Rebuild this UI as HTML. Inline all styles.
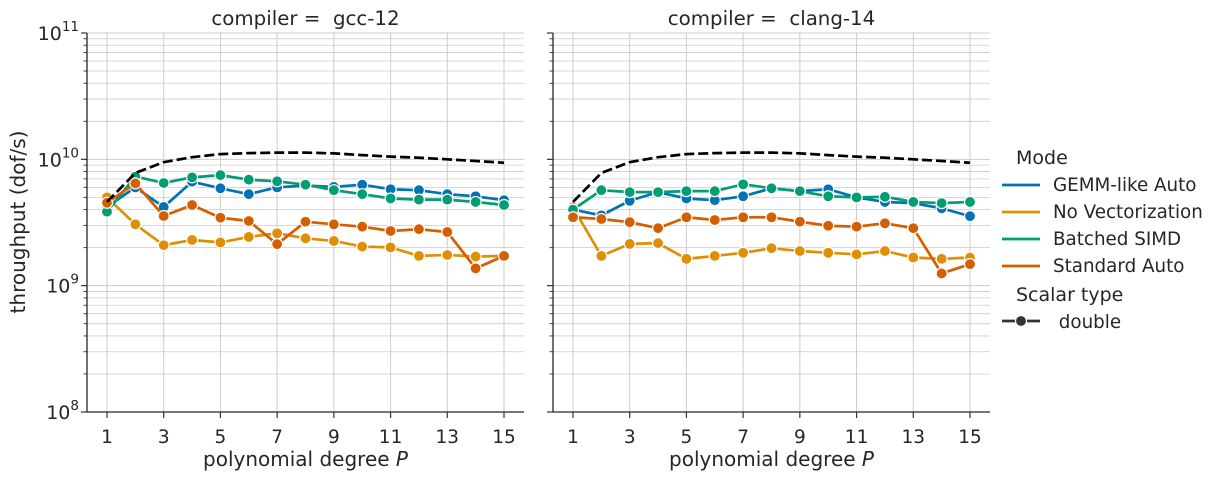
<!DOCTYPE html>
<html><head><meta charset="utf-8"><style>
html,body{margin:0;padding:0;background:#fff;width:1220px;height:480px;overflow:hidden}
svg{font-family:"DejaVu Sans","Liberation Sans",sans-serif;}
</style></head><body>
<svg id="chart" width="1220" height="480" xmlns="http://www.w3.org/2000/svg"></svg>
<script>
const degrees=[1,2,3,4,5,6,7,8,9,10,11,12,13,14,15];
const peak=[4.6e9,7.8e9,9.5e9,1.04e10,1.1e10,1.12e10,1.13e10,1.13e10,1.115e10,1.08e10,1.05e10,1.03e10,1.0e10,0.97e10,0.94e10];
const gccGemm=[4.2e9,6.0e9,4.2e9,6.65e9,5.9e9,5.3e9,6.0e9,6.2e9,6.05e9,6.3e9,5.8e9,5.7e9,5.3e9,5.1e9,4.75e9];
const gccNoVec=[5.0e9,3.06e9,2.09e9,2.3e9,2.2e9,2.43e9,2.6e9,2.37e9,2.26e9,2.04e9,2.01e9,1.72e9,1.75e9,1.7e9,1.72e9];
const gccBatched=[3.85e9,7.3e9,6.5e9,7.2e9,7.5e9,6.9e9,6.7e9,6.3e9,5.7e9,5.3e9,4.9e9,4.8e9,4.8e9,4.6e9,4.35e9];
const gccStd=[4.53e9,6.45e9,3.56e9,4.35e9,3.45e9,3.25e9,2.13e9,3.21e9,3.06e9,2.93e9,2.71e9,2.8e9,2.66e9,1.37e9,1.72e9];
const clangGemm=[4.0e9,3.6e9,4.7e9,5.5e9,4.9e9,4.75e9,5.1e9,5.9e9,5.6e9,5.8e9,5.0e9,4.6e9,4.5e9,4.1e9,3.55e9];
const clangNoVec=[4.17e9,1.72e9,2.14e9,2.17e9,1.63e9,1.72e9,1.82e9,1.98e9,1.88e9,1.82e9,1.77e9,1.88e9,1.67e9,1.63e9,1.67e9];
const clangBatched=[4.0e9,5.7e9,5.5e9,5.5e9,5.6e9,5.6e9,6.35e9,5.9e9,5.6e9,5.1e9,5.0e9,5.05e9,4.6e9,4.5e9,4.6e9];
const clangStd=[3.48e9,3.37e9,3.18e9,2.85e9,3.48e9,3.31e9,3.48e9,3.48e9,3.21e9,2.98e9,2.93e9,3.12e9,2.85e9,1.25e9,1.48e9];
const xTicks=[1,3,5,7,9,11,13,15];
const modeNames=["GEMM-like Auto","No Vectorization","Batched SIMD","Standard Auto"];
const colors=["#0173b2","#de8f05","#029e73","#d55e00"];

const NS="http://www.w3.org/2000/svg";
const svg=document.getElementById('chart');
function mk(tag,attrs,parent){const e=document.createElementNS(NS,tag);for(const k in attrs)e.setAttribute(k,attrs[k]);(parent||svg).appendChild(e);return e;}
const yTop=33,yBot=412;
function yS(v){return yBot-(Math.log10(v)-8)/3*(yBot-yTop);}

const panels=[
 {name:"gcc",title:"compiler =\u00a0\u00a0gcc-12",x0:87,x1:524,series:[gccGemm,gccNoVec,gccBatched,gccStd],labels:true},
 {name:"clang",title:"compiler =\u00a0\u00a0clang-14",x0:553,x1:990,series:[clangGemm,clangNoVec,clangBatched,clangStd],labels:false}
];
panels.forEach(p=>{
  const g=mk('g',{});
  
  
  const xS=d=>p.x0+20+(d-1)/14*(p.x1-p.x0-40);
  for(let e=8;e<11;e++){for(let m=1;m<10;m++){const y=yS(m*Math.pow(10,e));
    const gl=mk('line',{x1:p.x0,x2:p.x1,y1:y,y2:y,stroke:'#cccccc','stroke-width':m==1?1:0.8},g);
    
    mk('line',{x1:p.x0,x2:p.x0-(m==1?6:3.5),y1:y,y2:y,stroke:'#333','stroke-width':m==1?1.2:0.9},g);}}
  mk('line',{x1:p.x0,x2:p.x1,y1:yTop,y2:yTop,stroke:'#cccccc','stroke-width':1},g);
  mk('line',{x1:p.x0,x2:p.x0-6,y1:yTop,y2:yTop,stroke:'#333','stroke-width':1.2},g);
  xTicks.forEach(t=>{const x=xS(t);
    const vl=mk('line',{x1:x,x2:x,y1:yTop,y2:yBot,stroke:'#cccccc','stroke-width':1},g);
    
    mk('line',{x1:x,x2:x,y1:yBot,y2:yBot+6,stroke:'#333','stroke-width':1.2},g);
    const tl=mk('text',{x:x,y:yBot+31,'text-anchor':'middle','font-size':18.5,fill:'#262626'},g);tl.textContent=t;
    });
  if(p.labels){[8,9,10,11].forEach(e=>{const y=yS(Math.pow(10,e));
    const tl=mk('text',{x:p.x0-8,y:y+7,'text-anchor':'end','font-size':19,fill:'#262626'},g);
    tl.innerHTML='10<tspan dy="-9" font-size="13.5">'+e+'</tspan>';
    });}
  mk('line',{x1:p.x0,x2:p.x0,y1:yTop,y2:yBot,stroke:'#262626','stroke-width':1.3},g);
  mk('line',{x1:p.x0,x2:p.x1,y1:yBot,y2:yBot,stroke:'#262626','stroke-width':1.3},g);
  const tt=mk('text',{x:(p.x0+p.x1)/2,y:25,'text-anchor':'middle','font-size':19.8,fill:'#262626'},g);tt.textContent=p.title;
  
  const xl=mk('text',{x:(p.x0+p.x1)/2,y:466,'text-anchor':'middle','font-size':20,fill:'#262626'},g);
  xl.innerHTML='polynomial degree <tspan font-style="italic">P</tspan>';
  
  p.series.forEach((s,i)=>{
    const pl=mk('polyline',{points:s.map((v,j)=>xS(degrees[j])+','+yS(v)).join(' '),fill:'none',stroke:colors[i],'stroke-width':2.7,'stroke-linejoin':'round'},g);
    
    
    s.forEach((v,j)=>{const c=mk('circle',{cx:xS(degrees[j]),cy:yS(v),r:5.5,fill:colors[i],stroke:'#fff','stroke-width':1.2},g);
      });
  });
  const pk=mk('polyline',{points:peak.map((v,j)=>xS(degrees[j])+','+yS(v)).join(' '),fill:'none',stroke:'#000','stroke-width':2.7,'stroke-dasharray':'10,4'},g);
  
});
const yl=mk('text',{x:0,y:0,transform:'translate(25,222) rotate(-90)','text-anchor':'middle','font-size':20,fill:'#262626'});
yl.textContent='throughput (dof/s)';

const lg=mk('g',{});

const t1=mk('text',{x:1016,y:164,'font-size':19,fill:'#262626'},lg);t1.textContent='Mode';
modeNames.forEach((n,i)=>{const y=185+i*27;
  mk('line',{x1:1002,x2:1040,y1:y,y2:y,stroke:colors[i],'stroke-width':2.7},lg);
  const t=mk('text',{x:1053,y:y+6,'font-size':18.3,fill:'#262626'},lg);t.textContent=n;
  });
const t2=mk('text',{x:1016,y:301,'font-size':19,fill:'#262626'},lg);t2.textContent='Scalar type';
mk('line',{x1:1002,x2:1040,y1:321,y2:321,stroke:'#333','stroke-width':2.7},lg);
mk('circle',{cx:1021,cy:321,r:5.5,fill:'#333',stroke:'#fff','stroke-width':1.2},lg);
const t3=mk('text',{x:1053,y:328,'font-size':18.3,fill:'#262626'},lg);t3.textContent='\u00a0double';

</script>
</body></html>
